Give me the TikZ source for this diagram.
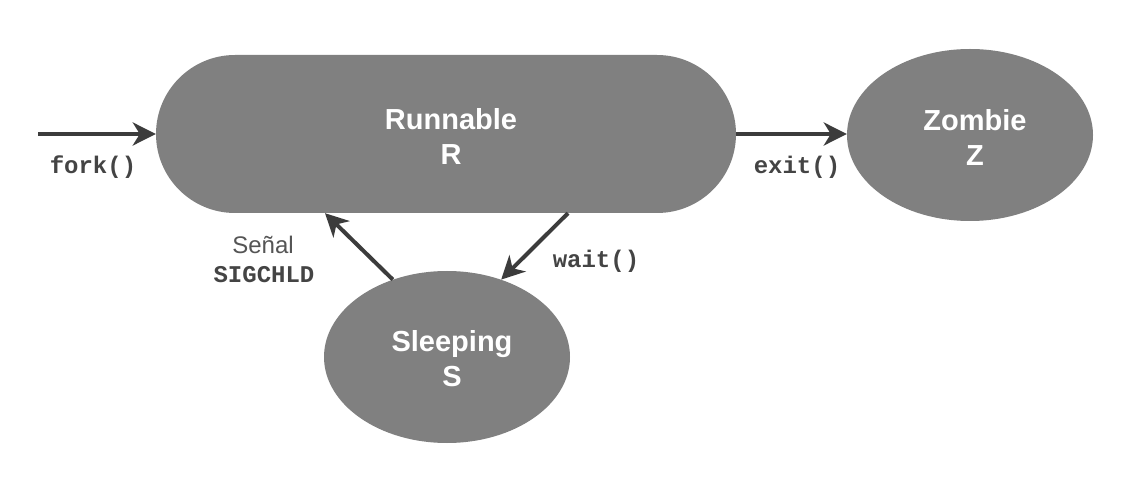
\documentclass[tikz,border=0pt]{standalone}
\usepackage{fontspec}
\setmainfont{Liberation Sans}
\newfontfamily\codefont{Liberation Mono}
\usetikzlibrary{shapes.geometric,arrows.meta,calc}
\definecolor{stategray}{HTML}{808080}
\definecolor{arrowgray}{HTML}{3C3C3C}
\definecolor{labelgray}{HTML}{444444}
\definecolor{signalgray}{HTML}{555555}
\tikzset{
  statefill/.style={fill=stategray, draw=none},
  statetext/.style={text=white, font=\fontsize{29}{35}\selectfont\bfseries, align=center},
  conn/.style={draw=arrowgray, line width=4pt, -{Stealth[length=23pt,width=23pt,inset=7pt]}},
  codelabel/.style={text=labelgray, font=\fontsize{24}{28}\selectfont\codefont\bfseries, anchor=base, inner sep=0pt},
  plainlabel/.style={text=signalgray, font=\fontsize{24}{28}\selectfont, anchor=base, inner sep=0pt}
}
\begin{document}
\begin{tikzpicture}[x=1pt,y=-1pt]
\useasboundingbox[fill=white] (0,0) rectangle (1136,494);
% states
\node[statefill, rectangle, rounded corners=79pt, minimum width=580pt, minimum height=158pt,
      label={[statetext, xshift=5pt, yshift=-2pt]center:Runnable\\R}] (run) at (446,134) {};
\node[statefill, ellipse, minimum width=246pt, minimum height=172pt, inner sep=0pt,
      label={[statetext, xshift=5pt, yshift=-2pt]center:Zombie\\Z}] (zombie) at (970,135) {};
\node[statefill, ellipse, minimum width=246pt, minimum height=172pt, inner sep=0pt,
      label={[statetext, xshift=5pt, yshift=-2pt]center:Sleeping\\S}] (sleep) at (447,357) {};
% free start of fork arrow
\coordinate (forkstart) at (38,134);
% connectors
\draw[conn] (forkstart) -- (run.west);
\draw[conn] (run.east) -- (run.east -| zombie.west);
\draw[conn] (sleep.125) -- ([xshift=-121pt]run.south);
\draw[conn] ([xshift=122pt]run.south) -- (sleep.55);
% labels
\node[codelabel] (forklbl) at (93,174) {fork()};
\node[codelabel] (exitlbl) at (797,174) {exit()};
\node[plainlabel] (senal) at (263,254) {Señal};
\node[codelabel] (sigchld) at (264,283) {SIGCHLD};
\node[codelabel] (waitlbl) at (596,268) {wait()};
\end{tikzpicture}
\end{document}
